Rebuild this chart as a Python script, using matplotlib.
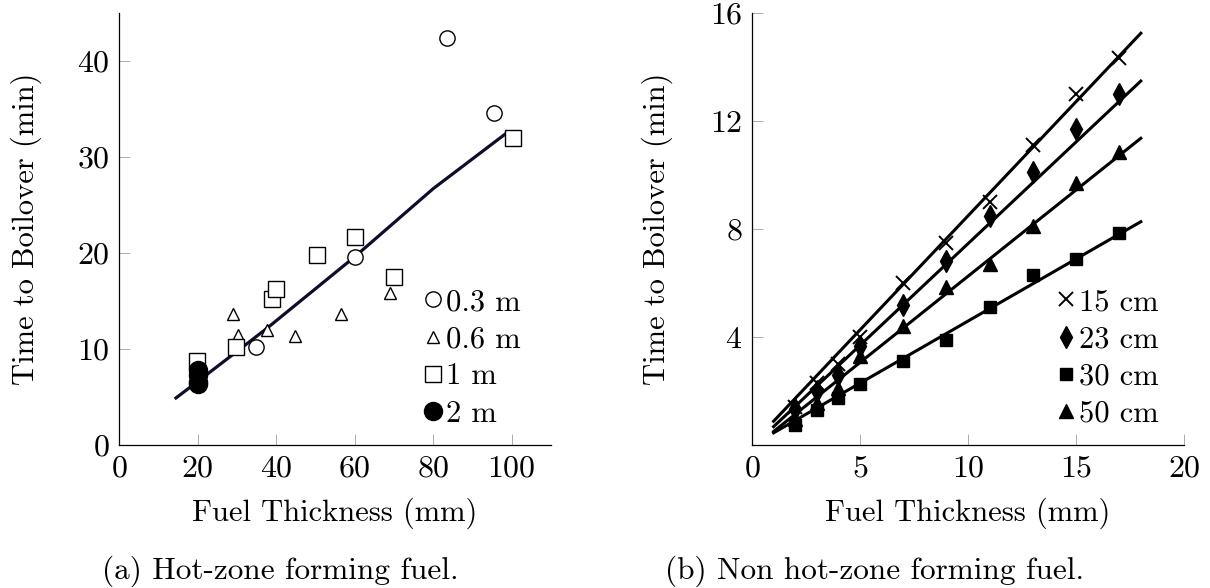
import numpy as np
import matplotlib.pyplot as plt

plt.rcParams['font.family'] = ['cmr10', 'DejaVu Serif']
plt.rcParams['axes.formatter.use_mathtext'] = True
plt.rcParams['axes.unicode_minus'] = False

# (a) hot-zone forming fuel: thickness (mm) vs time to boilover (min)
x_03 = [34.8, 60.2, 83.4, 95.4]
y_03 = [10.2, 19.6, 42.4, 34.6]
x_06 = [29.1, 30.4, 37.8, 44.9, 56.5, 69.0]
y_06 = [13.6, 11.5, 12.0, 11.4, 13.6, 15.8]
x_1 = [19.9, 29.8, 39.0, 40.0, 50.5, 60.0, 70.1, 100.2]
y_1 = [8.8, 10.2, 15.2, 16.2, 19.8, 21.7, 17.5, 32.0]
x_2 = [20.0, 20.0, 20.0, 20.0]
y_2 = [7.8, 7.3, 6.6, 6.4]
fit_a_x = [14.5, 20.0, 37.5, 60.0, 80.0, 98.7]
fit_a_y = [4.9, 6.6, 12.1, 19.6, 26.7, 32.5]

# (b) non hot-zone forming fuel
xb = [2, 3, 4, 5, 7, 9, 11, 13, 15, 17]
y_15 = [1.4, 2.3, 3.0, 4.0, 6.0, 7.5, 9.0, 11.1, 13.0, 14.35]
y_23 = [1.35, 2.0, 2.6, 3.65, 5.2, 6.8, 8.5, 10.1, 11.7, 13.0]
y_30 = [0.75, 1.3, 1.75, 2.25, 3.1, 3.9, 5.1, 6.3, 6.9, 7.85]
y_50 = [0.95, 1.55, 2.1, 3.3, 4.4, 5.85, 6.7, 8.1, 9.7, 10.85]
fit_b_x = [1, 18]
fit_15 = [0.88, 15.25]
fit_23 = [0.68, 13.48]
fit_30 = [0.45, 8.27]
fit_50 = [0.50, 11.36]

fs = 22

fig = plt.figure(figsize=(12.1, 5.88), dpi=100)
ax1 = fig.add_axes([119/1210, 1 - 445/588, 432/1210, 432/588])
ax2 = fig.add_axes([752/1210, 1 - 445/588, 432/1210, 432/588])

def style(ax, ylab_x):
    for s in ['top', 'right']:
        ax.spines[s].set_visible(False)
    for s in ['left', 'bottom']:
        ax.spines[s].set_linewidth(0.9)
    ax.tick_params(direction='in', length=8, width=0.6, color='#a0a0a0',
                   labelsize=23, pad=7)
    ax.set_xlabel('Fuel Thickness (mm)', fontsize=fs, labelpad=11)
    ax.set_ylabel('Time to Boilover (min)', fontsize=fs)
    ax.yaxis.set_label_coords(ylab_x, 0.5)
    ax.legend(loc='upper left', bbox_to_anchor=(0.705, 0.362), frameon=False,
              fontsize=fs, handlelength=0.6, handletextpad=0.12,
              labelspacing=0.32, borderpad=0, borderaxespad=0)

# ---- panel (a)
ax1.plot(fit_a_x, fit_a_y, color='#0e0e2c', lw=2.3, zorder=2)
mk = dict(linestyle='none', mfc='white', mec='black', mew=1.0, zorder=3)
ax1.plot(x_03, y_03, marker='o', ms=11, label='0.3 m', **mk)
ax1.plot(x_06, y_06, marker='^', ms=9, label='0.6 m', **mk)
ax1.plot(x_1, y_1, marker='s', ms=11.5, label='1 m', **mk)
ax1.plot(x_2, y_2, marker='o', ms=13, linestyle='none', color='black',
         label='2 m', zorder=4)
ax1.set_xlim(0, 110)
ax1.set_ylim(0, 45)
ax1.set_xticks([0, 20, 40, 60, 80, 100])
ax1.set_yticks([0, 10, 20, 30, 40])
style(ax1, -0.178)

# ---- panel (b)
for fy in [fit_15, fit_23, fit_30, fit_50]:
    ax2.plot(fit_b_x, fy, color='black', lw=2.2, zorder=2)
ax2.plot(xb, y_15, marker='x', ms=10, mew=1.4, linestyle='none',
         color='black', label='15 cm', zorder=3)
ax2.plot(xb, y_23, marker='d', ms=11, linestyle='none', color='black',
         label='23 cm', zorder=3)
ax2.plot(xb, y_30, marker='s', ms=9, linestyle='none', color='black',
         label='30 cm', zorder=3)
ax2.plot(xb, y_50, marker='^', ms=10, linestyle='none', color='black',
         label='50 cm', zorder=3)
ax2.set_xlim(0, 20)
ax2.set_ylim(0, 16)
ax2.set_xticks([0, 5, 10, 15, 20])
ax2.set_yticks([4, 8, 12, 16])
style(ax2, -0.183)

fig.text(280/1210, 1 - 571/588, '(a) Hot-zone forming fuel.',
         ha='center', va='center', fontsize=22.5)
fig.text(875/1210, 1 - 571/588, '(b) Non hot-zone forming fuel.',
         ha='center', va='center', fontsize=22.5)

fig.savefig('out.png', dpi=100)
